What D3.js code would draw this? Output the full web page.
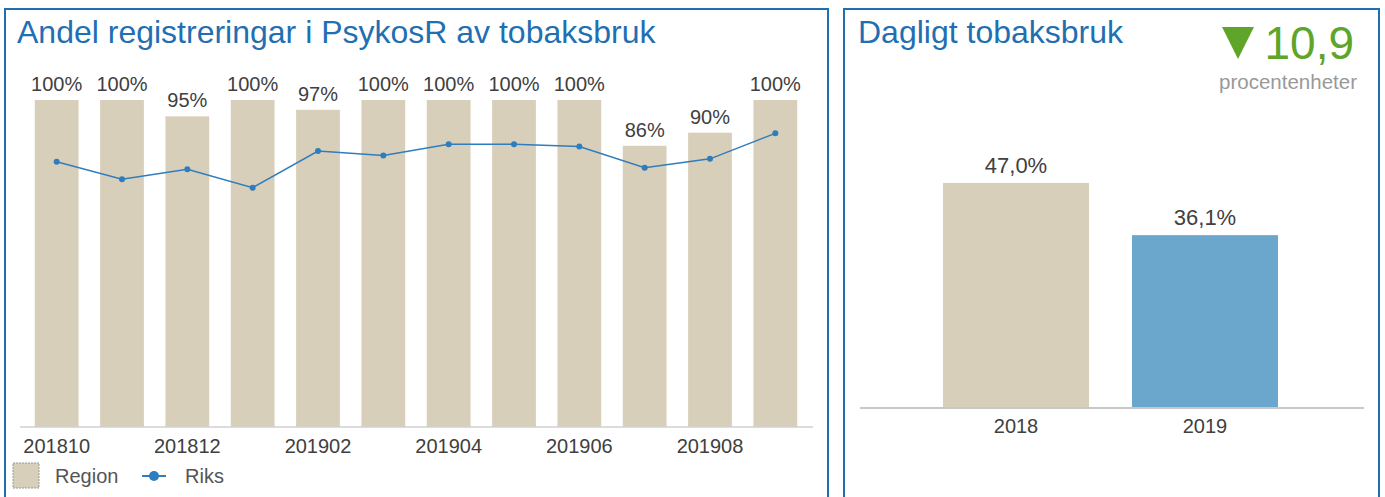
<!DOCTYPE html>
<html>
<head>
<meta charset="utf-8">
<script src="https://cdn.jsdelivr.net/npm/d3@7"></script>
<style>
body { margin: 0; background: #fff; }
text { font-family: "Liberation Sans", Arial, sans-serif; }
</style>
</head>
<body>
<script>

// left chart: share of registrations per month
var months = ["201810", "201811", "201812", "201901", "201902", "201903",
              "201904", "201905", "201906", "201907", "201908", "201909"];
var region = [1.00, 1.00, 0.95, 1.00, 0.97, 1.00, 1.00, 1.00, 1.00, 0.86, 0.90, 1.00];
var riks   = [0.811, 0.758, 0.788, 0.732, 0.844, 0.830, 0.865, 0.865, 0.858, 0.793, 0.820, 0.898];
var tickMonths = ["201810", "201812", "201902", "201904", "201906", "201908"];

// right chart: daily tobacco use
var years = ["2018", "2019"];
var daily = [0.470, 0.361];
var change = "10,9";

var BLUE = "#1f6fb2";
var SAND = "#d8cfba";
var LINE = "#2f7dbd";
var GREEN = "#5fa52a";
var TEXT = "#404040";

// swedish decimal comma
var sv = d3.formatLocale({ decimal: ",", thousands: " ", grouping: [3], currency: ["", " kr"] });
var pct1 = sv.format(".1%");
var pct0 = d3.format(".0%");

var svg = d3.select("body").append("svg")
    .attr("width", 1385)
    .attr("height", 497);

// panels
svg.append("rect")
    .attr("x", 5).attr("y", 9).attr("width", 823).attr("height", 500)
    .attr("fill", "none").attr("stroke", BLUE).attr("stroke-width", 2);
svg.append("rect")
    .attr("x", 844).attr("y", 9).attr("width", 535).attr("height", 500)
    .attr("fill", "none").attr("stroke", BLUE).attr("stroke-width", 2);

svg.append("text")
    .attr("x", 17).attr("y", 43)
    .attr("font-size", 32).attr("fill", BLUE)
    .text("Andel registreringar i PsykosR av tobaksbruk");

// ---- left chart
var x = d3.scaleBand().domain(months).range([24, 808])
    .paddingInner(0.33).paddingOuter(0.165);
var y = d3.scaleLinear().domain([0, 1]).range([427, 100]);

var left = svg.append("g");

left.selectAll("rect.bar").data(region).enter().append("rect")
    .attr("class", "bar")
    .attr("x", function (d, i) { return x(months[i]); })
    .attr("y", function (d) { return y(d); })
    .attr("width", x.bandwidth())
    .attr("height", function (d) { return y(0) - y(d); })
    .attr("fill", SAND);

left.selectAll("text.lbl").data(region).enter().append("text")
    .attr("class", "lbl")
    .attr("x", function (d, i) { return x(months[i]) + x.bandwidth() / 2; })
    .attr("y", function (d) { return y(d) - 9; })
    .attr("text-anchor", "middle")
    .attr("font-size", 20).attr("fill", TEXT)
    .text(function (d) { return pct0(d); });

left.append("line")
    .attr("x1", 20).attr("x2", 813).attr("y1", y(0)).attr("y2", y(0))
    .attr("stroke", "#d0d0d0").attr("stroke-width", 1.5);

var xAxis = d3.axisBottom(x).tickValues(tickMonths).tickSize(0).tickPadding(12);
var gx = left.append("g").attr("transform", "translate(0," + y(0) + ")").call(xAxis);
gx.select(".domain").remove();
gx.selectAll("text")
    .attr("font-size", 20).attr("fill", TEXT)
    .style("font-family", "'Liberation Sans', Arial, sans-serif");

var line = d3.line()
    .x(function (d, i) { return x(months[i]) + x.bandwidth() / 2; })
    .y(function (d) { return y(d); });

left.append("path")
    .datum(riks)
    .attr("d", line)
    .attr("fill", "none").attr("stroke", LINE).attr("stroke-width", 1.5);

left.selectAll("circle.pt").data(riks).enter().append("circle")
    .attr("class", "pt")
    .attr("cx", function (d, i) { return x(months[i]) + x.bandwidth() / 2; })
    .attr("cy", function (d) { return y(d); })
    .attr("r", 3)
    .attr("fill", LINE);

// legend
var lg = svg.append("g");
lg.append("rect")
    .attr("x", 13).attr("y", 463).attr("width", 26).attr("height", 25)
    .attr("fill", SAND).attr("stroke", "#999").attr("stroke-dasharray", "2,1");
lg.append("text").attr("x", 55).attr("y", 483)
    .attr("font-size", 20).attr("fill", "#555").text("Region");
lg.append("line")
    .attr("x1", 142).attr("x2", 166).attr("y1", 476).attr("y2", 476)
    .attr("stroke", LINE).attr("stroke-width", 2);
lg.append("circle").attr("cx", 154).attr("cy", 476).attr("r", 5).attr("fill", LINE);
lg.append("text").attr("x", 185).attr("y", 483)
    .attr("font-size", 20).attr("fill", "#555").text("Riks");

// ---- right chart
svg.append("text")
    .attr("x", 858).attr("y", 43)
    .attr("font-size", 32).attr("fill", BLUE)
    .text("Dagligt tobaksbruk");

svg.append("path")
    .attr("d", "M1222,27L1254,27L1238,59Z")
    .attr("fill", GREEN);
svg.append("text")
    .attr("x", 1354).attr("y", 59)
    .attr("text-anchor", "end")
    .attr("font-size", 46).attr("fill", GREEN)
    .text(change);
svg.append("text")
    .attr("x", 1357).attr("y", 89)
    .attr("text-anchor", "end")
    .attr("font-size", 20.5).attr("fill", "#999")
    .text("procentenheter");

var x2 = d3.scaleBand().domain(years).range([921.5, 1299.5])
    .paddingInner(0.2275).paddingOuter(0.1138);
var y2 = d3.scaleLinear().domain([0, 0.5]).range([408, 168.6]);
var colors = d3.scaleOrdinal().domain(years).range([SAND, "#6ba6cc"]);

var right = svg.append("g");

right.selectAll("rect.bar").data(daily).enter().append("rect")
    .attr("class", "bar")
    .attr("x", function (d, i) { return x2(years[i]); })
    .attr("y", function (d) { return y2(d); })
    .attr("width", x2.bandwidth())
    .attr("height", function (d) { return y2(0) - y2(d); })
    .attr("fill", function (d, i) { return colors(years[i]); });

right.selectAll("text.lbl").data(daily).enter().append("text")
    .attr("class", "lbl")
    .attr("x", function (d, i) { return x2(years[i]) + x2.bandwidth() / 2; })
    .attr("y", function (d) { return y2(d) - 10; })
    .attr("text-anchor", "middle")
    .attr("font-size", 22).attr("fill", TEXT)
    .text(function (d) { return pct1(d); });

right.append("line")
    .attr("x1", 860).attr("x2", 1364).attr("y1", y2(0)).attr("y2", y2(0))
    .attr("stroke", "#c8c8c8").attr("stroke-width", 2);

var gx2 = right.append("g").attr("transform", "translate(0," + y2(0) + ")")
    .call(d3.axisBottom(x2).tickSize(0).tickPadding(11));
gx2.select(".domain").remove();
gx2.selectAll("text")
    .attr("font-size", 20).attr("fill", TEXT)
    .style("font-family", "'Liberation Sans', Arial, sans-serif");

</script>
</body>
</html>
